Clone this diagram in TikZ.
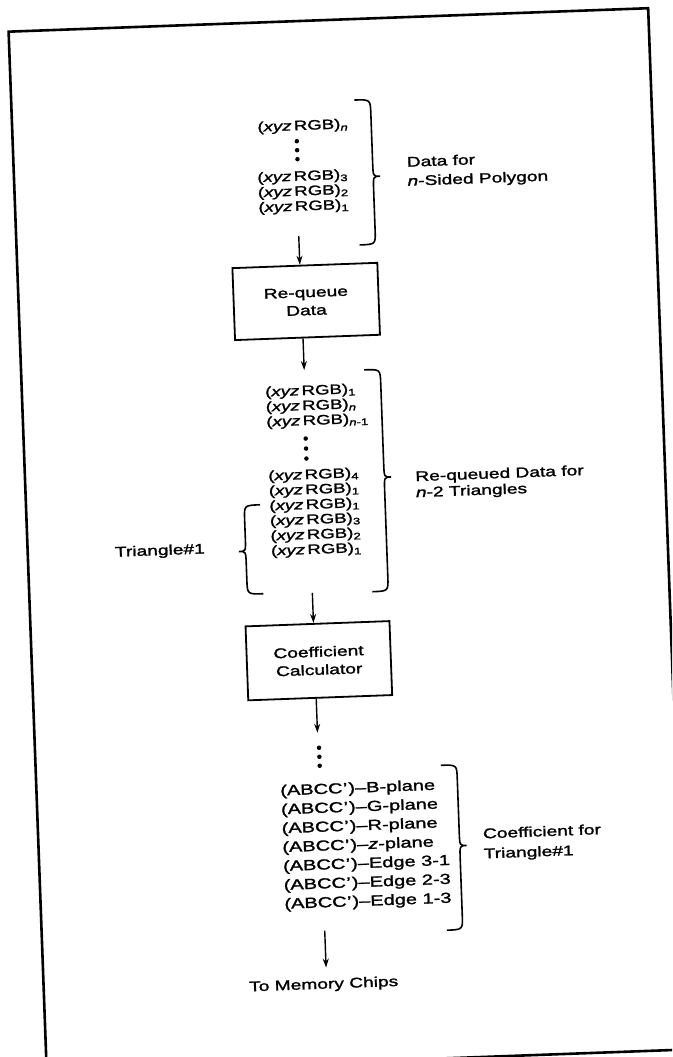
\documentclass[tikz,border=0pt]{standalone}
\usepackage{fontspec}
\setmainfont{Liberation Sans}[FakeStretch=1.37,FakeBold=1.6]
\usetikzlibrary{arrows.meta}
\newcommand{\mybrace}[5]{%
 \draw[brc] (#1,#2) .. controls ({#1+(#5)*16},#2) .. ({#1+(#5)*16},{#2+14})
 -- ({#1+(#5)*16},{#4-13}) .. controls ({#1+(#5)*16},#4) .. ({#1+(#5)*23},#4)
 .. controls ({#1+(#5)*16},#4) .. ({#1+(#5)*16},{#4+13})
 -- ({#1+(#5)*16},{#3-14}) .. controls ({#1+(#5)*16},#3) .. (#1,#3);}
\newcommand{\xyz}[1]{(\textit{xyz}\,RGB)\textsubscript{#1}}
\newcommand{\abcc}{(ABCC\kern0.5pt'\kern1pt)–}
\tikzset{
 lbl/.style={inner sep=0pt, font=\fontsize{14}{14}\selectfont},
 itm/.style={lbl, anchor=west, text height=8.5pt, text depth=1.5pt, font=\fontsize{13.6}{14}\selectfont},
 lbl2/.style={inner sep=0pt, anchor=west, align=left},
 abc/.style={inner sep=0pt, anchor=west, font=\fontsize{14.6}{14.6}\selectfont, text height=9.5pt, text depth=2pt},
 procbox/.style={draw, line width=1.8pt, minimum width=145pt, minimum height=72pt, align=center, font=\fontsize{14}{18}\selectfont, inner sep=0pt},
 arr/.style={line width=1.4pt, -{Stealth[length=9pt,width=6pt]}},
 brc/.style={line width=1.6pt},
 dotc/.style={circle, fill, inner sep=0pt, minimum size=4.5pt},
 outerframe/.style={line width=2.6pt}
}
\begin{document}
\begin{tikzpicture}[x=1pt,y=-1pt]
\useasboundingbox (0,0) rectangle (672,1057);
\fill[white] (0,0) rectangle (672,1057);
\clip (0,0) rectangle (672,1057);
\begin{scope}[rotate around={2.1:(336,528)}, transform shape]
\draw[outerframe] (27,20) rectangle (667,1062);
% top list
\node[itm] (t1) at (272,125.5) {\xyz{\textit{n}}};
\node[dotc] (td1) at (311,140) {};
\node[dotc] (td2) at (311,149) {};
\node[dotc] (td3) at (311,158) {};
\node[itm] (t2) at (270,176) {\xyz{3}};
\node[itm] (t3) at (270,191) {\xyz{2}};
\node[itm] (t4) at (270,206) {\xyz{1}};
\mybrace{370}{101}{246}{178}{1}
\node[lbl2, font=\fontsize{14}{19}\selectfont] (lab1) at (420,175.5) {Data for\\\textit{n}-Sided Polygon};
% box 1
\node[procbox] (rq) at (314.5,300.5) {Re-queue\\Data};
\coordinate (a1s) at (309.5,235);
\draw[arr] (a1s) -- (a1s |- rq.north);
\coordinate (a2e) at (310,369);
\draw[arr] (rq.south -| a2e) -- (a2e);
% second list
\node[itm] (s1) at (270,390.5) {\xyz{1}};
\node[itm] (s2) at (270,405.5) {\xyz{\textit{n}}};
\node[itm] (s3) at (270,420.5) {\xyz{\textit{n}-1}};
\node[dotc] (sd1) at (309,437.5) {};
\node[dotc] (sd2) at (309,447.5) {};
\node[dotc] (sd3) at (309,457.5) {};
\node[itm] (s4) at (270,474.5) {\xyz{4}};
\node[itm] (s5) at (270,489.5) {\xyz{1}};
\node[itm] (s6) at (270,504.5) {\xyz{1}};
\node[itm] (s7) at (270,519.5) {\xyz{3}};
\node[itm] (s8) at (270,534.5) {\xyz{2}};
\node[itm] (s9) at (270,549.5) {\xyz{1}};
\mybrace{370}{371}{593}{479}{1}
\mybrace{261}{502}{591}{548}{-1}
\node[lbl2, font=\fontsize{14}{16}\selectfont] (lab2) at (417,488.5) {Re-queued Data for\\\textit{n}-2 Triangles};
\node[lbl, anchor=west] (lab3) at (114,545) {Triangle\#1};
% box 2
\coordinate (a3s) at (310,592);
\node[procbox, minimum width=144pt, minimum height=74pt] (cc) at (314,660) {Coefficient\\Calculator};
\draw[arr] (a3s) -- (a3s |- cc.north);
\coordinate (a4e) at (310,732);
\draw[arr] (cc.south -| a4e) -- (a4e);
\node[dotc] (cd1) at (311,747) {};
\node[dotc] (cd2) at (311,756) {};
\node[dotc] (cd3) at (311,765) {};
% coefficient list
\node[abc] (c1) at (270.5,789.5) {\abcc B-plane};
\node[abc] (c2) at (270.5,808.4) {\abcc G-plane};
\node[abc] (c3) at (270.5,827.3) {\abcc R-plane};
\node[abc] (c4) at (270.5,846.2) {\abcc\textit{z}-plane};
\node[abc] (c5) at (270.5,865.1) {\abcc Edge 3-1};
\node[abc] (c6) at (270.5,884) {\abcc Edge 2-3};
\node[abc] (c7) at (270.5,902.9) {\abcc Edge 1-3};
\mybrace{432}{769}{934}{850}{1}
\node[lbl2, font=\fontsize{14}{20}\selectfont] (lab4) at (471.5,850) {Coefficient for\\Triangle\#1};
\coordinate (a5s) at (310,930);
\coordinate (a5e) at (310,967);
\draw[arr] (a5s) -- (a5e);
\node[lbl] (mem) at (307,984.3) {To Memory Chips};
\end{scope}
\end{tikzpicture}
\end{document}
